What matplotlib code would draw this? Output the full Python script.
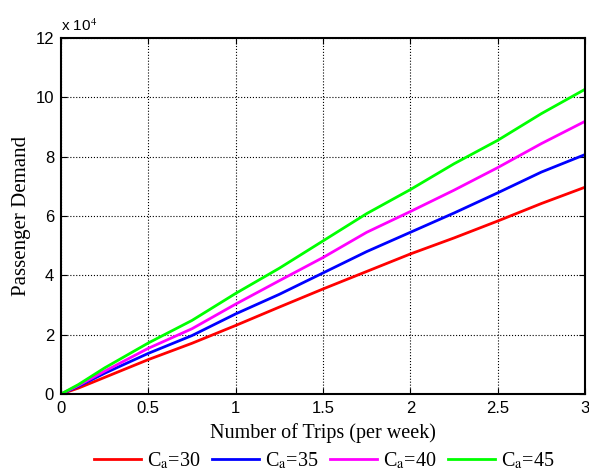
import matplotlib
matplotlib.use("Agg")
import matplotlib.pyplot as plt

# --- data (passenger demand in units of 1e4) ---
trips = [0, 0.1, 0.25, 0.5, 0.75, 1.0, 1.25, 1.5, 1.75, 2.0, 2.25, 2.5, 2.75, 3.0]
ca30 = [0, 0.20, 0.56, 1.16, 1.71, 2.31, 2.93, 3.54, 4.13, 4.72, 5.26, 5.83, 6.42, 6.97]
ca35 = [0, 0.26, 0.70, 1.37, 1.97, 2.70, 3.36, 4.08, 4.80, 5.45, 6.10, 6.78, 7.48, 8.07]
ca40 = [0, 0.29, 0.77, 1.54, 2.20, 3.03, 3.82, 4.60, 5.45, 6.15, 6.87, 7.63, 8.44, 9.19]
ca45 = [0, 0.32, 0.88, 1.72, 2.48, 3.39, 4.24, 5.16, 6.08, 6.89, 7.76, 8.55, 9.45, 10.27]
series = [("30", ca30, "#ff0000"), ("35", ca35, "#0000ff"),
          ("40", ca40, "#ff00ff"), ("45", ca45, "#00ff00")]

plt.rcParams["mathtext.fontset"] = "stix"
SERIF = "Liberation Serif"
SANS = "Liberation Sans"

fig = plt.figure(figsize=(5.89, 4.72), dpi=100)
ax = fig.add_axes([61 / 589, 1 - 394 / 472, 524 / 589, 356 / 472])

for lab, vals, col in series:
    ax.plot(trips, vals, color=col, lw=2, label=r"C$_{\rm a}$=" + lab)

ax.set_xlim(0, 3)
ax.set_ylim(0, 12)
ax.set_xticks([0, 0.5, 1, 1.5, 2, 2.5, 3])
ax.set_xticklabels(["0", "0.5", "1", "1.5", "2", "2.5", "3"])
ax.set_yticks(range(0, 13, 2))
ax.grid(True, color="black", ls=":", lw=0.8)
ax.tick_params(direction="in", top=True, right=True, length=4, labelsize=12, pad=5)
for t in ax.get_xticklabels() + ax.get_yticklabels():
    t.set_family(SANS)
for s in ax.spines.values():
    s.set_linewidth(1.5)

ax.set_xlabel("Number of Trips (per week)", family=SERIF, fontsize=14.5, labelpad=5)
ax.set_ylabel("Passenger Demand", family=SERIF, fontsize=15, labelpad=3)
ax.text(0, 1.012, r"x 10$^4$", transform=ax.transAxes, family=SANS, fontsize=11,
        ha="left", va="bottom")

fig.legend(loc="center", bbox_to_anchor=(324.5 / 589, 1 - 461 / 472), ncol=4,
           frameon=False, prop={"family": SERIF, "size": 14.5}, handlelength=2.35,
           columnspacing=0.55, handletextpad=0.3, borderpad=0.2)

fig.savefig("out.png", dpi=100, facecolor="white")
